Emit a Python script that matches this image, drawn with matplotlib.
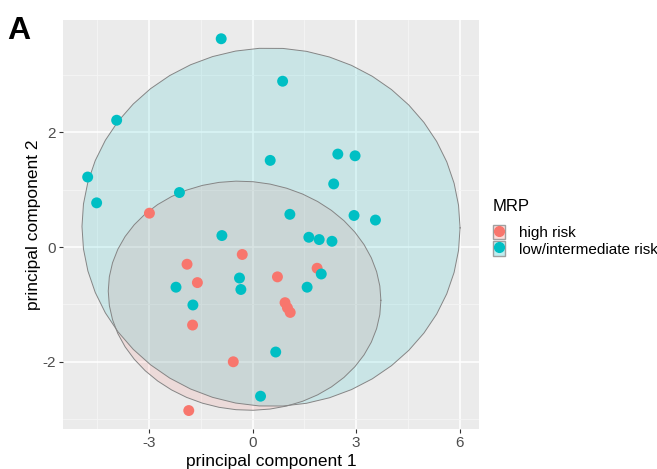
import numpy as np
import matplotlib.pyplot as plt
from matplotlib.colors import to_rgba
from matplotlib.patches import Patch
from matplotlib.lines import Line2D
from matplotlib.legend_handler import HandlerTuple
from matplotlib.ticker import MultipleLocator

plt.rcParams["font.family"] = ["Liberation Sans", "DejaVu Sans"]
plt.rcParams["axes.unicode_minus"] = False

groups = ["high risk", "low/intermediate risk"]
colors = ["#F8766D", "#00BFC4"]

high_pc1 = [-2.99, -0.30, -1.90, -1.60, 0.72, 1.87, 0.94, 1.01, 1.09, -1.74, -0.56, -1.85]
high_pc2 = [0.59, -0.13, -0.30, -0.62, -0.52, -0.37, -0.97, -1.06, -1.14, -1.36, -2.00, -2.85]

low_pc1 = [-0.91, 0.87, -3.94, -4.78, -4.52, -2.12, 0.51, 2.47, 2.97, 2.35, 1.08, 2.94, 3.56,
           -0.89, 1.63, 1.93, 2.30, 1.99, 1.58, -0.38, -0.34, -2.22, -1.73, 0.67, 0.23]
low_pc2 = [3.63, 2.89, 2.21, 1.22, 0.77, 0.95, 1.51, 1.62, 1.59, 1.10, 0.57, 0.55, 0.47,
           0.20, 0.17, 0.13, 0.10, -0.47, -0.70, -0.54, -0.74, -0.70, -1.01, -1.83, -2.60]


def cov_trob(xy, nu=5, maxit=25, tol=0.01):
    # robust t covariance, same idea as MASS::cov.trob used by stat_ellipse
    n, p = xy.shape
    w = np.ones(n)
    loc = xy.mean(axis=0)
    for _ in range(maxit):
        w0 = w
        X = xy - loc
        _, d, vt = np.linalg.svd(np.sqrt(w / w.sum())[:, None] * X, full_matrices=False)
        wX = X @ vt.T / d
        Q = (wX ** 2).sum(axis=1)
        w = (nu + p) / (nu + Q)
        loc = (w[:, None] * xy).sum(axis=0) / w.sum()
        if np.all(np.abs(w - w0) < tol):
            break
    sX = np.sqrt(w)[:, None] * X
    return loc, sX.T @ sX / n


def ellipse(x, y, level=0.95, segments=51):
    xy = np.column_stack([x, y])
    n = len(xy)
    center, shape = cov_trob(xy)
    dfd = n - 1
    fq = dfd / 2 * ((1 - level) ** (-2 / dfd) - 1)  # qf(level, 2, dfd)
    radius = np.sqrt(2 * fq)
    t = np.linspace(0, 2 * np.pi, segments)
    circle = np.column_stack([np.cos(t), np.sin(t)])
    L = np.linalg.cholesky(shape)
    pts = center + radius * circle @ L.T
    return pts[:, 0], pts[:, 1]


fig = plt.figure(figsize=(6.57, 4.69), dpi=100)
ax = fig.add_axes([0.096, 0.085, 0.633, 0.872])
ax.set_facecolor("#EBEBEB")

data = [(high_pc1, high_pc2), (low_pc1, low_pc2)]
for (x, y), c in zip(data, colors):
    ex, ey = ellipse(x, y)
    ax.fill(ex, ey, facecolor=c, alpha=0.14, edgecolor="none", zorder=1)
    ax.plot(ex, ey, color="#858585", lw=0.7, zorder=2)

for (x, y), c in zip(data, colors):
    ax.scatter(x, y, s=62, color=c, edgecolors="none", zorder=3)

ax.margins(0.05)
ax.xaxis.set_major_locator(MultipleLocator(3))
ax.xaxis.set_minor_locator(MultipleLocator(1.5))
ax.yaxis.set_major_locator(MultipleLocator(2))
ax.yaxis.set_minor_locator(MultipleLocator(1))
ax.grid(which="major", color="white", lw=1.1)
ax.grid(which="minor", color="#F5F5F5", lw=0.6)
ax.set_axisbelow(True)
for s in ax.spines.values():
    s.set_visible(False)
ax.tick_params(which="major", length=3, color="#333333", labelsize=11, labelcolor="#4D4D4D", pad=2)
ax.tick_params(which="minor", length=0)

ax.set_xlabel("principal component 1", fontsize=12.5, labelpad=3)
ax.set_ylabel("principal component 2", fontsize=12.5, labelpad=1)

fig.text(0.011, 1 - 39 / 469, "A", fontsize=23, fontweight="bold", va="baseline")

handles = [(Patch(facecolor=to_rgba(c, 0.25), edgecolor="#A0A0A0", lw=1.0),
            Line2D([], [], marker="o", ls="", color=c, markersize=7))
           for c in colors]
leg = fig.legend(handles, groups, title="MRP", loc="upper left",
                 bbox_to_anchor=(0.750, 0.576), frameon=False, fontsize=11,
                 title_fontsize=12, handler_map={tuple: HandlerTuple(ndivide=1)},
                 handlelength=0.8, handleheight=1.05, handletextpad=0.9,
                 labelspacing=0.07, borderpad=0, borderaxespad=0)
leg._legend_box.align = "left"
leg._legend_box.sep = 8

fig.savefig("out.png", dpi=100)
